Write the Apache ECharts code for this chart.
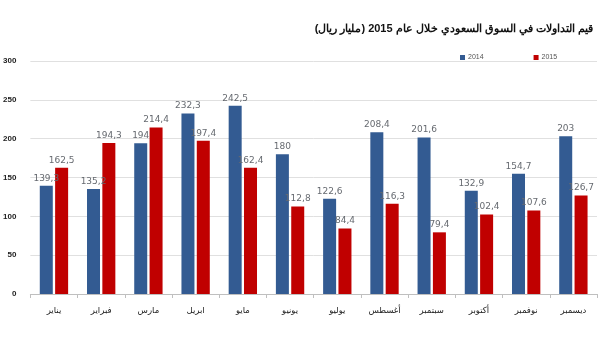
<!DOCTYPE html>
<html><head><meta charset="utf-8">
<script src="https://cdn.jsdelivr.net/npm/echarts@6/dist/echarts.min.js"></script>
<style>html,body{margin:0;padding:0;background:#fff}#c{width:608px;height:346px}</style>
</head><body><div id="c"></div>
<script>
const months = ['يناير','فبراير','مارس','ابريل','مايو','يونيو','يوليو','أغسطس','سبتمبر','أكتوبر','نوفمبر','ديسمبر'];
const v2014 = [139.3,135.2,194,232.3,242.5,180,122.6,208.4,201.6,132.9,154.7,203];
const v2015 = [162.5,194.3,214.4,197.4,162.4,112.8,84.4,116.3,79.4,102.4,107.6,126.7];
const yTicks = [0,50,100,150,200,250,300];

const chart = echarts.init(document.getElementById('c'));
const lbl = {show:true, position:'top', distance:3, color:'#666a70', fontSize:9, fontFamily:'DejaVu Sans',
  formatter:p=>String(p.value).replace('.',',')};
chart.setOption({
  animation:false,
  title:{text:'قيم التداولات في السوق السعودي خلال عام 2015 (مليار ريال)', right:10, top:18,
    textStyle:{fontSize:11, fontWeight:'bold', color:'#111', fontFamily:'Liberation Sans'}},
  legend:{top:49, left:455, itemWidth:5, itemHeight:5, itemGap:50, icon:'rect',
    textStyle:{fontSize:7, color:'#555', padding:[0,0,0,-2]}, data:['2014','2015']},
  grid:{left:30, right:11, top:61, bottom:52},
  xAxis:{type:'category', data:months, axisTick:{show:true, alignWithLabel:false, length:4, lineStyle:{color:'#bfbfbf'}},
    axisLine:{lineStyle:{color:'#bfbfbf'}}, axisLabel:{color:'#222', fontSize:8.5, margin:12, fontFamily:'DejaVu Sans'}},
  yAxis:{type:'value', min:yTicks[0], max:yTicks[yTicks.length-1], interval:50,
    axisLabel:{color:'#222', fontSize:8, fontWeight:'bold', margin:14, fontFamily:'Liberation Sans'},
    splitLine:{lineStyle:{color:'#e0e0e0'}}, axisLine:{show:false}, axisTick:{show:false}},
  series:[
    {name:'2014', type:'bar', data:v2014, barWidth:13, barGap:'18%', itemStyle:{color:'#335B92'}, label:lbl},
    {name:'2015', type:'bar', data:v2015, barWidth:13, itemStyle:{color:'#C00000'}, label:lbl}
  ]
});
</script></body></html>
